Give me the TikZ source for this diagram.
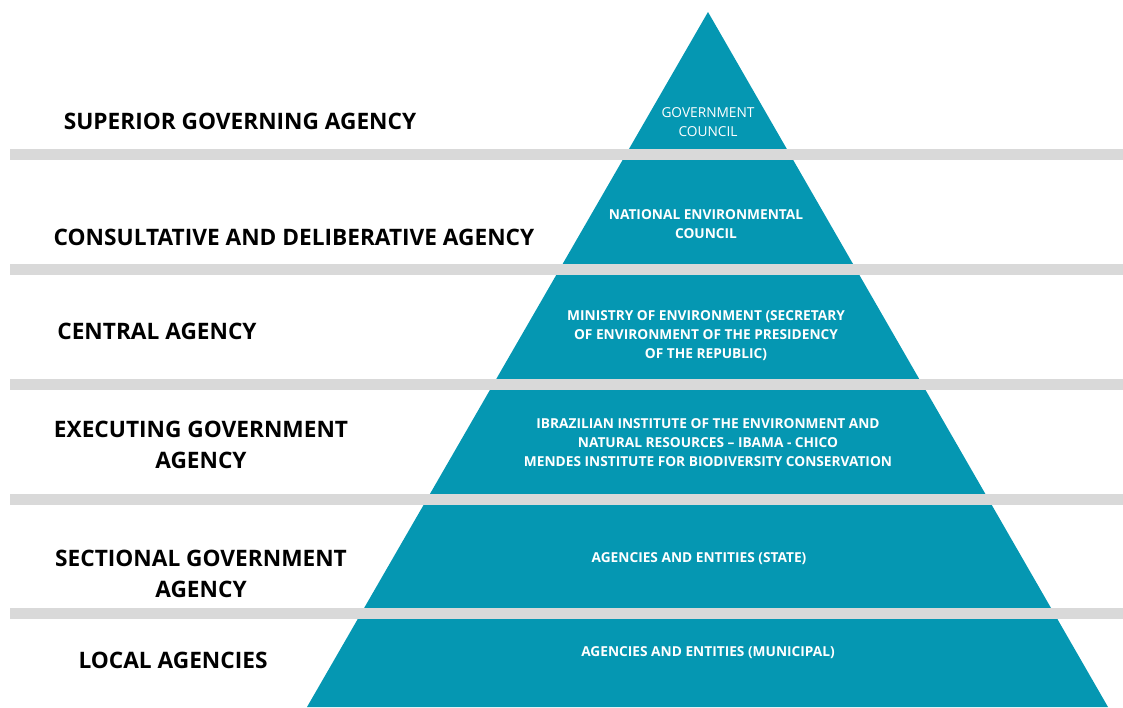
\documentclass[tikz,border=0pt]{standalone}
\usepackage{fontspec}
\setmainfont{Open Sans}
\definecolor{azul}{HTML}{0597B2}
\definecolor{gris}{HTML}{D9D9D9}
\begin{document}
\begin{tikzpicture}[x=0.02cm, y=-0.02cm,
    etiqueta/.style={font=\bfseries\fontsize{12.9}{18}\selectfont, align=center},
    nivel/.style={text=white, font=\bfseries\fontsize{7.8}{10.8}\selectfont, align=center}]
        \useasboundingbox (0,0) rectangle (1123,707);

        % La piramide (azul)
        \fill[azul] (708,12) -- (1108,707) -- (307,707) -- cycle;

        % Franjas grises entre niveles
        \foreach \y in {149,264,379,494,608}
            \fill[gris] (10,\y) rectangle (1123,\y+11);

        % Niveles de la piramide
        \node[nivel, font=\fontsize{7.8}{10.4}\selectfont] (gobierno) at (708,122) {GOVERNMENT\\COUNCIL};
        \node[nivel] (nacional) at (706,224) {NATIONAL ENVIRONMENTAL\\COUNCIL};
        \node[nivel] (ministerio) at (706,336) {MINISTRY OF ENVIRONMENT (SECRETARY\\OF ENVIRONMENT OF THE PRESIDENCY\\OF THE REPUBLIC)};
        \node[nivel] (ibama) at (708,443) {IBRAZILIAN INSTITUTE OF THE ENVIRONMENT AND\\NATURAL RESOURCES -- IBAMA - CHICO\\MENDES INSTITUTE FOR BIODIVERSITY CONSERVATION};
        \node[nivel] (estado) at (699,559) {AGENCIES AND ENTITIES (STATE)};
        \node[nivel] (municipio) at (708,653) {AGENCIES AND ENTITIES (MUNICIPAL)};

        % Etiquetas a la izquierda
        \node[etiqueta] (superior) at (240,121) {SUPERIOR GOVERNING AGENCY};
        \node[etiqueta] (consultivo) at (294,237) {CONSULTATIVE AND DELIBERATIVE AGENCY};
        \node[etiqueta] (central) at (157,331) {CENTRAL AGENCY};
        \node[etiqueta] (ejecutivo) at (201,445) {EXECUTING GOVERNMENT\\AGENCY};
        \node[etiqueta] (seccional) at (201,574) {SECTIONAL GOVERNMENT\\AGENCY};
        \node[etiqueta] (local) at (173,660) {LOCAL AGENCIES};
\end{tikzpicture}
\end{document}
